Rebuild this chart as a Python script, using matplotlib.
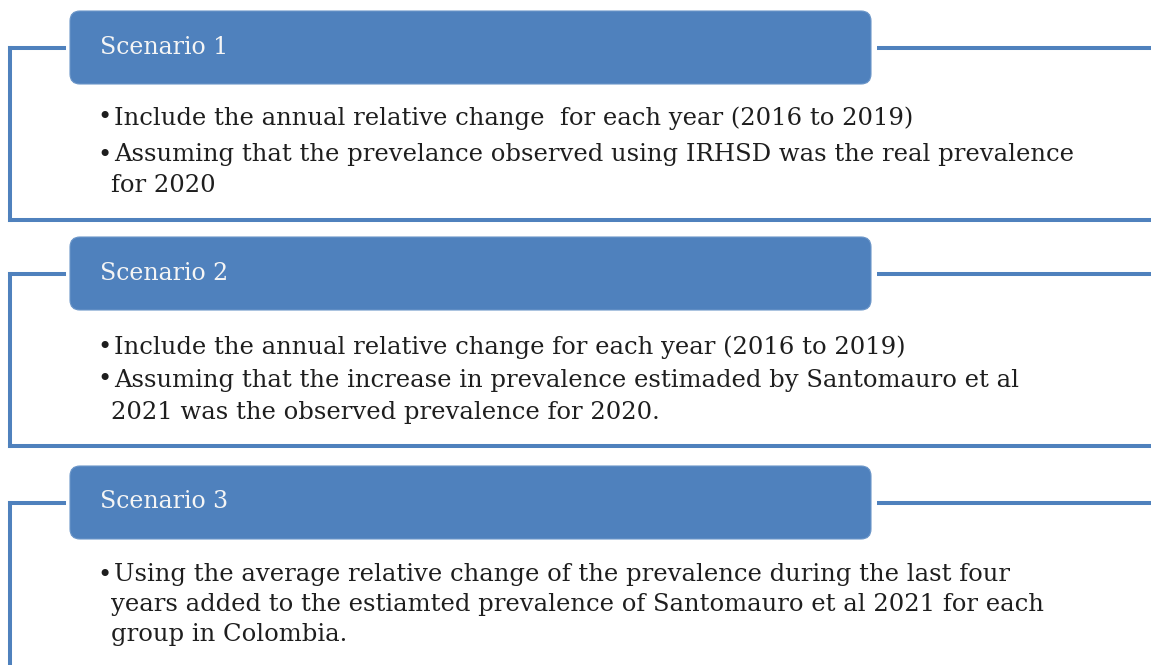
import matplotlib.pyplot as plt
from matplotlib.patches import FancyBboxPatch

plt.rcParams['font.family'] = ['DejaVu Serif']

BLUE = '#4F81BD'
TEXT = '#1E1E1E'

titles = ['Scenario 1', 'Scenario 2', 'Scenario 3']

# each scenario: list of bullets, each bullet a list of wrapped lines
bullets = [
    [['Include the annual relative change  for each year (2016 to 2019)'],
     ['Assuming that the prevelance observed using IRHSD was the real prevalence',
      'for 2020']],
    [['Include the annual relative change for each year (2016 to 2019)'],
     ['Assuming that the increase in prevalence estimaded by Santomauro et al',
      '2021 was the observed prevalence for 2020.']],
    [['Using the average relative change of the prevalence during the last four',
      'years added to the estiamted prevalence of Santomauro et al 2021 for each',
      'group in Colombia.']],
]

# layout in pixels (y downwards)
box_top = [11, 237, 466]
box_h = 73
frame_bottom = [220, 446, None]
line_ys = [[118, 155, 186], [347, 380, 413], [575, 605, 635]]

W, H = 1151, 665
fig = plt.figure(figsize=(W / 100, H / 100), dpi=100)
ax = fig.add_axes([0, 0, 1, 1])
ax.set_xlim(0, W)
ax.set_ylim(H, 0)
ax.axis('off')

lw = 2.9
for i, title in enumerate(titles):
    top = box_top[i]
    mid = top + box_h / 2 + 0.5
    bottom = frame_bottom[i] if frame_bottom[i] is not None else H + 5
    # frame lines
    ax.plot([10, 10], [mid, bottom], color=BLUE, lw=lw, solid_capstyle='projecting')
    ax.plot([10, 64], [mid, mid], color=BLUE, lw=lw, solid_capstyle='projecting')
    ax.plot([877, W + 5], [mid, mid], color=BLUE, lw=lw, solid_capstyle='butt')
    if frame_bottom[i] is not None:
        ax.plot([10, W + 5], [bottom, bottom], color=BLUE, lw=lw, solid_capstyle='projecting')
    # header box
    box = FancyBboxPatch((70 + 10, top + 10), 801 - 20, box_h - 20,
                         boxstyle='round,pad=10', fc=BLUE, ec='#6A95C8', lw=0.8)
    ax.add_patch(box)
    ax.text(100, mid - 1, title, color='#F5F5F5', fontsize=17,
            va='center', ha='left')
    # bullets
    k = 0
    for b in bullets[i]:
        for j, line in enumerate(b):
            y = line_ys[i][k]
            if j == 0:
                ax.text(97, y, '•', color=TEXT, fontsize=17.5, va='center', ha='left')
            ax.text(114 if j == 0 else 111, y, line, color=TEXT, fontsize=17.5,
                    va='center', ha='left')
            k += 1

fig.savefig('out.png', dpi=100, facecolor='white')
